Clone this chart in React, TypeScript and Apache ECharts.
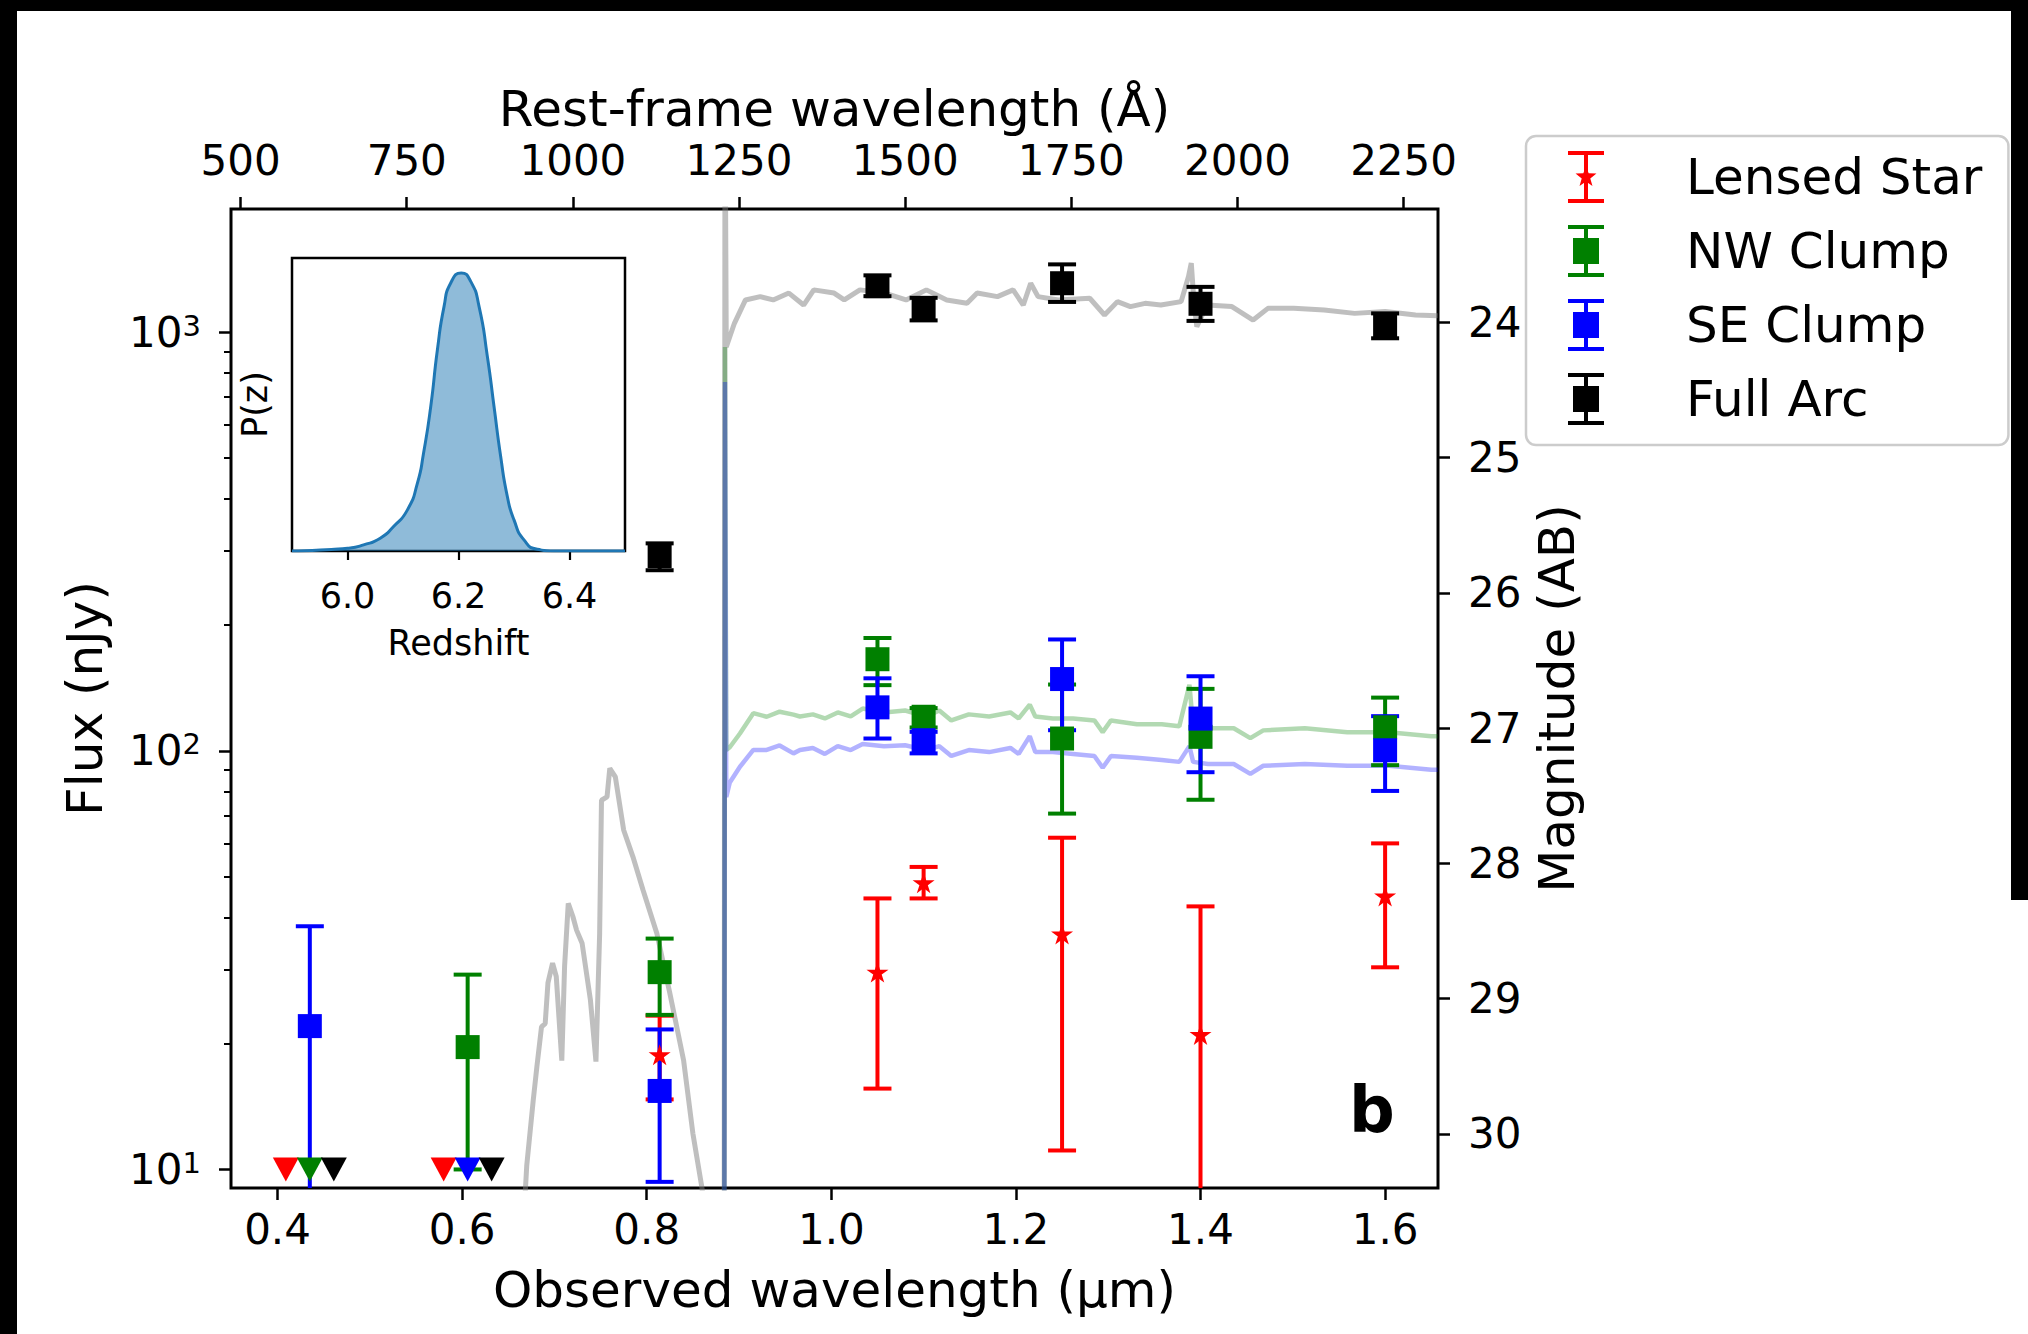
import React, { useEffect, useRef } from 'react';
import * as echarts from 'echarts';

const FONT = '"DejaVu Sans", "Liberation Sans", sans-serif';

// ---------- axis ranges ----------
const XMIN = 0.3496;
const XMAX = 1.6573;
const ONE_PLUS_Z = 7.2;
const YMIN = 9.03;
const YMAX = 1969;
const MAG_MIN = 23.163;
const MAG_MAX = 30.4;

// ---------- tick values ----------
const obsTicks = [0.4, 0.6, 0.8, 1.0, 1.2, 1.4, 1.6];
const restTicks = [500, 750, 1000, 1250, 1500, 1750, 2000, 2250];
const fluxTicks = [10, 100, 1000];
const fluxMinorTicks = [20, 30, 40, 50, 60, 70, 80, 90, 200, 300, 400, 500, 600, 700, 800, 900];
const magTicks = [24, 25, 26, 27, 28, 29, 30];
const zTicks = [6.0, 6.2, 6.4];

// ---------- photometry (nJy) ----------
const bands = [0.435, 0.606, 0.814, 1.05, 1.1, 1.25, 1.4, 1.6];

const starFlux = [null, null, 18.8, 29.6, 48.4, 36.5, 21.0, 45.0];
const starLow = [null, null, 14.7, 15.6, 44.4, 11.1, 5.0, 30.4];
const starHigh = [null, null, 23.3, 44.4, 52.8, 62.0, 42.5, 60.1];

const nwFlux = [null, 19.6, 29.6, 165.5, 120.6, 107.0, 108.0, 113.8];
const nwLow = [null, 10.0, 23.4, 143.5, 113.7, 70.8, 76.4, 92.4];
const nwHigh = [null, 29.2, 35.6, 186.0, 126.5, 144.0, 140.6, 134.0];

const seFlux = [22.0, null, 15.4, 127.0, 106.0, 148.4, 119.4, 100.3];
const seLow = [4.0, null, 9.34, 107.0, 98.6, 112.0, 88.9, 80.2];
const seHigh = [38.1, null, 21.6, 149.0, 111.0, 184.5, 150.7, 121.0];

const arcFlux = [null, null, 292, 1288, 1138, 1309, 1169, 1038];
const arcLow = [null, null, 270, 1219, 1067, 1181, 1064, 967];
const arcHigh = [null, null, 313, 1367, 1208, 1452, 1283, 1109];

// upper limits (drawn as down triangles at the limit level)
const LIMIT_FLUX = 10;
const starLimitBands = [0.435, 0.606];
const nwLimitBands = [0.435];
const seLimitBands = [0.606];
const arcLimitBands = [0.435, 0.606];
const starLimitShift = -0.026;
const arcLimitShift = 0.026;

// ---------- model spectra [observed um, nJy] ----------
const arcModel: [number, number][] = [
  [0.655, 2], [0.668, 8.5], [0.670, 10.2], [0.677, 14.6], [0.681, 17.6], [0.686, 21.9],
  [0.690, 22.3], [0.693, 27.9], [0.698, 31.1], [0.702, 28.9], [0.708, 18.2], [0.711, 30.5],
  [0.715, 43.2], [0.720, 40.2], [0.724, 37.3], [0.730, 34.7], [0.739, 25.4], [0.745, 18.1],
  [0.749, 36.6], [0.751, 76.2], [0.757, 77.6], [0.760, 90.8], [0.766, 86.7], [0.775, 64.7],
  [0.785, 55.9], [0.796, 46.5], [0.811, 36.6], [0.825, 26.4], [0.840, 18.2], [0.850, 12.2],
  [0.860, 9.0], [0.870, 5.5], [0.8838, 3], [0.8848, 4000], [0.8862, 922], [0.895, 1050],
  [0.907, 1194], [0.923, 1216], [0.937, 1194], [0.954, 1240], [0.970, 1161], [0.981, 1262],
  [1.003, 1240], [1.014, 1194], [1.031, 1262], [1.058, 1240], [1.081, 1194], [1.103, 1262],
  [1.125, 1194], [1.147, 1172], [1.158, 1240], [1.180, 1216], [1.197, 1262], [1.208, 1161],
  [1.216, 1309], [1.224, 1216], [1.246, 1194], [1.280, 1205], [1.296, 1099], [1.310, 1183],
  [1.324, 1151], [1.340, 1172], [1.357, 1161], [1.379, 1183], [1.387, 1358], [1.390, 1462],
  [1.393, 1172], [1.396, 1030], [1.407, 1161], [1.434, 1151], [1.457, 1069], [1.473, 1140],
  [1.501, 1140], [1.534, 1130], [1.567, 1109], [1.600, 1120], [1.633, 1099], [1.657, 1095],
];

const nwModel: [number, number][] = [
  [0.8838, 1], [0.8848, 922], [0.8862, 100.5], [0.890, 102], [0.901, 110], [0.9155, 123],
  [0.930, 120.6], [0.944, 124], [0.959, 122], [0.966, 120.8], [0.980, 122.2], [0.993, 119.5],
  [1.007, 123.5], [1.021, 120.8], [1.034, 126.2], [1.057, 123.5], [1.080, 124.8], [1.103, 120.8],
  [1.117, 124.8], [1.130, 118.2], [1.149, 122.2], [1.171, 120.8], [1.194, 123.5], [1.203, 119.5],
  [1.215, 128.9], [1.221, 120.8], [1.240, 119.5], [1.262, 119.5], [1.285, 118.2], [1.294, 110.8],
  [1.303, 118.2], [1.331, 115.7], [1.358, 115.7], [1.377, 114.4], [1.388, 143.8], [1.392, 114.4],
  [1.408, 113.2], [1.436, 113.2], [1.454, 107.2], [1.468, 111.9], [1.513, 113.2], [1.559, 110.8],
  [1.604, 110.8], [1.650, 108.4], [1.657, 108.4],
];

const seModel: [number, number][] = [
  [0.8838, 1], [0.8848, 760], [0.8862, 77.6], [0.890, 84], [0.901, 91.6], [0.9155, 100.5],
  [0.930, 100.5], [0.944, 103], [0.959, 98.6], [0.966, 100.4], [0.980, 101.6], [0.993, 98.3],
  [1.007, 102.6], [1.021, 100.4], [1.034, 103.8], [1.057, 102.6], [1.080, 103.1], [1.103, 100.4],
  [1.117, 102.6], [1.130, 97.2], [1.149, 100.4], [1.171, 99.3], [1.194, 101.6], [1.203, 98.3],
  [1.215, 108.4], [1.221, 99.3], [1.240, 99.3], [1.262, 98.3], [1.285, 97.2], [1.294, 91.1],
  [1.303, 97.2], [1.331, 96.2], [1.358, 95.1], [1.377, 94.1], [1.388, 102.6], [1.392, 94.1],
  [1.408, 93.0], [1.436, 93.0], [1.454, 88.1], [1.468, 92.1], [1.513, 93.0], [1.559, 92.1],
  [1.604, 92.1], [1.650, 90.1], [1.657, 90.1],
];

// ---------- redshift PDF (inset) ----------
const pzRedshift = [5.9, 5.951, 6.0, 6.029, 6.059, 6.083, 6.108, 6.126, 6.137, 6.15, 6.162, 6.174, 6.186,
  6.205, 6.222, 6.237, 6.252, 6.264, 6.276, 6.288, 6.3, 6.318, 6.342, 6.372, 6.5];
const pzProb = [0, 0.004, 0.01, 0.022, 0.046, 0.088, 0.148, 0.244, 0.352, 0.52, 0.724, 0.88, 0.964,
  1.0, 0.97, 0.88, 0.7, 0.52, 0.34, 0.196, 0.112, 0.04, 0.006, 0, 0];
const PZ_MAX = 1.054;

// ---------- colours ----------
const RED = '#ff0000';
const GREEN = '#008000';
const BLUE = '#0000ff';
const BLACK = '#000000';

const STAR_SYMBOL = 'path://M50,0L61.2,34.5L97.6,34.5L68.2,55.9L79.4,90.5L50,69.1L20.6,90.5L31.8,55.9L2.4,34.5L38.8,34.5Z';
const ICON_BAR = 'M0,0H36V4H0Z M16,4H20V48H16Z M0,48H36V52H0Z';
const ICON_SQUARE = 'path://' + ICON_BAR + ' M5,13H31V39H5Z';
const ICON_STAR = 'path://' + ICON_BAR +
  ' M18,15L20.65,22.36L28.46,22.6L22.28,27.39L24.47,34.9L18,30.5L11.53,34.9L13.72,27.39L7.54,22.6L15.35,22.36Z';

function pairs(xs: number[], ys: (number | null)[]) {
  const out: number[][] = [];
  xs.forEach((x, i) => { if (ys[i] != null) out.push([x, ys[i] as number]); });
  return out;
}

function errorBars(name: string, color: string, low: (number | null)[], high: (number | null)[]) {
  const data: number[][] = [];
  bands.forEach((b, i) => { if (low[i] != null) data.push([b, low[i] as number, high[i] as number]); });
  return {
    type: 'custom', name, xAxisIndex: 0, yAxisIndex: 0, z: 3, clip: true, silent: true,
    itemStyle: { color },
    encode: { x: 0, y: [1, 2] },
    renderItem: (_p: any, api: any) => {
      const a = api.coord([api.value(0), api.value(1)]);
      const b = api.coord([api.value(0), api.value(2)]);
      const style = { stroke: color, lineWidth: 4, fill: null };
      const cap = 14;
      return {
        type: 'group',
        children: [
          { type: 'line', shape: { x1: a[0], y1: a[1], x2: b[0], y2: b[1] }, style },
          { type: 'line', shape: { x1: a[0] - cap, y1: a[1], x2: a[0] + cap, y2: a[1] }, style },
          { type: 'line', shape: { x1: b[0] - cap, y1: b[1], x2: b[0] + cap, y2: b[1] }, style },
        ],
      };
    },
    data,
  };
}

function points(name: string, color: string, flux: (number | null)[], symbol: string, size: number) {
  return {
    type: 'scatter', name, xAxisIndex: 0, yAxisIndex: 0, z: 5, silent: true,
    symbol, symbolSize: size, symbolKeepAspect: true,
    itemStyle: { color, opacity: 1 },
    data: pairs(bands, flux),
  };
}

function limits(name: string, color: string, limitBands: number[], shift: number) {
  return {
    type: 'scatter', name, xAxisIndex: 0, yAxisIndex: 0, z: 5, silent: true,
    symbol: 'triangle', symbolRotate: 180, symbolSize: [26, 24],
    itemStyle: { color, opacity: 1 },
    data: limitBands.map((b) => [b + shift, LIMIT_FLUX]),
  };
}

function model(name: string, color: string, pts: [number, number][], width: number) {
  return {
    type: 'line', name, xAxisIndex: 0, yAxisIndex: 0, z: 1, silent: true,
    showSymbol: false, symbol: 'none', clip: true,
    lineStyle: { color, width },
    data: pts,
  };
}

const tickStyle = { color: '#000', width: 2.5 };
const labelStyle = { fontSize: 42, color: '#000', fontFamily: FONT };
const nameStyle = { fontSize: 50, color: '#000', fontFamily: FONT };

const option: any = {
  animation: false,
  backgroundColor: 'transparent',
  textStyle: { fontFamily: FONT },
  grid: [
    { left: 231, top: 209, width: 1207, height: 979, show: true, borderColor: '#000', borderWidth: 3, backgroundColor: 'rgba(0,0,0,0)' },
    { left: 292, top: 258, width: 333, height: 293, show: true, borderColor: '#000', borderWidth: 2.5, backgroundColor: '#fff' },
  ],
  xAxis: [
    {
      type: 'value', gridIndex: 0, position: 'bottom', min: XMIN, max: XMAX,
      axisLine: { show: false }, splitLine: { show: false },
      axisTick: { show: true, length: 12, lineStyle: tickStyle, customValues: obsTicks },
      axisLabel: { ...labelStyle, customValues: obsTicks, margin: 20, formatter: (v: number) => v.toFixed(1) },
      name: 'Observed wavelength (μm)', nameLocation: 'middle', nameGap: 77, nameTextStyle: nameStyle,
    },
    {
      type: 'value', gridIndex: 0, position: 'top',
      min: (XMIN * 1e4) / ONE_PLUS_Z, max: (XMAX * 1e4) / ONE_PLUS_Z,
      axisLine: { show: false }, splitLine: { show: false },
      axisTick: { show: true, length: 12, lineStyle: tickStyle, customValues: restTicks },
      axisLabel: { ...labelStyle, customValues: restTicks, margin: 28, formatter: (v: number) => String(Math.round(v)) },
      name: 'Rest-frame wavelength (Å)', nameLocation: 'middle', nameGap: 73, nameTextStyle: nameStyle,
    },
    {
      type: 'value', gridIndex: 1, min: 5.9, max: 6.5,
      axisLine: { show: false }, splitLine: { show: false },
      axisTick: { show: true, length: 9, lineStyle: { color: '#000', width: 2.2 }, customValues: zTicks },
      axisLabel: { fontSize: 35, color: '#000', fontFamily: FONT, customValues: zTicks, margin: 27, formatter: (v: number) => v.toFixed(1) },
      name: 'Redshift', nameLocation: 'middle', nameGap: 74, nameTextStyle: { fontSize: 35, color: '#000', fontFamily: FONT },
    },
  ],
  yAxis: [
    {
      type: 'log', gridIndex: 0, position: 'left', min: YMIN, max: YMAX,
      axisLine: { show: false }, splitLine: { show: false }, minorTick: { show: false },
      axisTick: { show: true, length: 12, lineStyle: tickStyle, customValues: fluxTicks },
      axisLabel: {
        customValues: fluxTicks, margin: 30,
        formatter: (v: number) => `{b|10}{s|${Math.round(Math.log10(v))}}`,
        rich: {
          b: { fontSize: 42, color: '#000', fontFamily: FONT },
          s: { fontSize: 29, color: '#000', fontFamily: FONT, verticalAlign: 'top' },
        },
      },
      name: 'Flux (nJy)', nameLocation: 'middle', nameGap: 121, nameTextStyle: nameStyle,
    },
    {
      type: 'value', gridIndex: 0, position: 'right', inverse: true, min: MAG_MIN, max: MAG_MAX,
      axisLine: { show: false }, splitLine: { show: false },
      axisTick: { show: true, length: 12, lineStyle: tickStyle, customValues: magTicks },
      axisLabel: { ...labelStyle, customValues: magTicks, margin: 30, formatter: (v: number) => String(Math.round(v)) },
      name: 'Magnitude (AB)', nameLocation: 'middle', nameGap: 93, nameTextStyle: nameStyle,
    },
    {
      type: 'log', gridIndex: 0, position: 'left', min: YMIN, max: YMAX,
      axisLine: { show: false }, splitLine: { show: false },
      axisTick: { show: true, length: 7, lineStyle: { color: '#000', width: 2 }, customValues: fluxMinorTicks },
      axisLabel: { show: false },
    },
    {
      type: 'value', gridIndex: 1, min: 0, max: PZ_MAX,
      axisLine: { show: false }, splitLine: { show: false }, axisTick: { show: false }, axisLabel: { show: false },
      name: 'P(z)', nameLocation: 'middle', nameGap: 20, nameTextStyle: { fontSize: 35, color: '#000', fontFamily: FONT },
    },
  ],
  legend: {
    orient: 'vertical', left: 1526, top: 136,
    padding: [15, 26, 20, 42],
    itemWidth: 60, itemHeight: 52, itemGap: 22,
    borderColor: '#cccccc', borderWidth: 2.5, borderRadius: 10,
    backgroundColor: 'rgba(255,255,255,0.8)',
    selectedMode: false,
    textStyle: { fontSize: 50, color: '#000', fontFamily: FONT, padding: [0, 0, 0, 65] },
    data: [
      { name: 'Lensed Star', icon: ICON_STAR, itemStyle: { color: RED } },
      { name: 'NW Clump', icon: ICON_SQUARE, itemStyle: { color: GREEN } },
      { name: 'SE Clump', icon: ICON_SQUARE, itemStyle: { color: BLUE } },
      { name: 'Full Arc', icon: ICON_SQUARE, itemStyle: { color: BLACK } },
    ],
  },
  graphic: [
    {
      type: 'text', x: 1372, y: 1110, z: 20,
      style: { text: 'b', fontSize: 64, fontWeight: 'bold', fontFamily: FONT, fill: '#000', align: 'center', verticalAlign: 'middle' },
    },
  ],
  series: [
    model('Full Arc model', 'rgba(128,128,128,0.5)', arcModel, 5),
    model('NW Clump model', 'rgba(0,128,0,0.3)', nwModel, 4.5),
    model('SE Clump model', 'rgba(0,0,255,0.3)', seModel, 4.5),
    errorBars('Lensed Star', RED, starLow, starHigh),
    errorBars('NW Clump', GREEN, nwLow, nwHigh),
    errorBars('SE Clump', BLUE, seLow, seHigh),
    errorBars('Full Arc', BLACK, arcLow, arcHigh),
    points('Lensed Star', RED, starFlux, STAR_SYMBOL, 22),
    points('NW Clump', GREEN, nwFlux, 'rect', 24),
    points('SE Clump', BLUE, seFlux, 'rect', 24),
    points('Full Arc', BLACK, arcFlux, 'rect', 24),
    limits('Lensed Star', RED, starLimitBands, starLimitShift),
    limits('NW Clump', GREEN, nwLimitBands, 0),
    limits('SE Clump', BLUE, seLimitBands, 0),
    limits('Full Arc', BLACK, arcLimitBands, arcLimitShift),
    {
      type: 'line', name: 'P(z)', xAxisIndex: 2, yAxisIndex: 3, z: 2, silent: true,
      showSymbol: false, symbol: 'none', smooth: 0.6,
      lineStyle: { color: '#1f77b4', width: 3 },
      areaStyle: { color: '#1f77b4', opacity: 0.5 },
      data: pzRedshift.map((z, i) => [z, pzProb[i]]),
    },
  ],
};

export default function App() {
  const ref = useRef<HTMLDivElement>(null);
  useEffect(() => {
    document.body.style.margin = '0';
    const chart = echarts.init(ref.current as HTMLDivElement, null, { renderer: 'svg' });
    chart.setOption(option);
    return () => chart.dispose();
  }, []);
  return (
    <div style={{ position: 'relative', width: 2028, height: 1334, background: '#fff', overflow: 'hidden' }}>
      <div style={{ position: 'absolute', left: 0, top: 0, width: 2028, height: 11, background: '#000' }} />
      <div style={{ position: 'absolute', left: 0, top: 0, width: 17, height: 1334, background: '#000' }} />
      <div style={{ position: 'absolute', left: 2011, top: 0, width: 17, height: 900, background: '#000' }} />
      <div ref={ref} style={{ position: 'absolute', left: 0, top: 0, width: 2028, height: 1334 }} />
    </div>
  );
}
